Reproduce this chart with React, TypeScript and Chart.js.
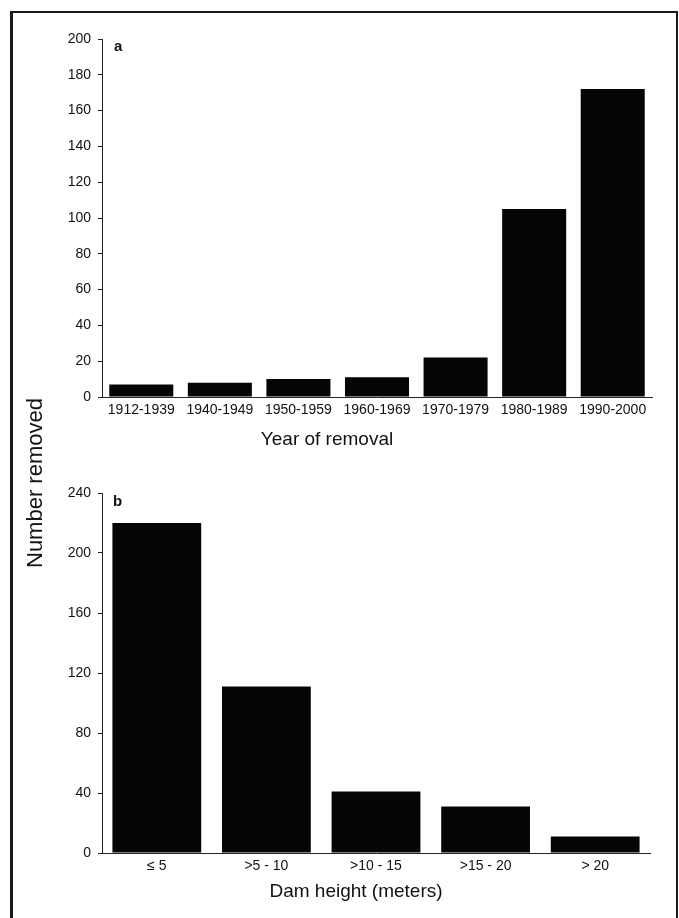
import React, { useEffect, useRef } from 'react';
import { Chart, registerables } from 'chart.js';

Chart.register(...registerables);

// Dam removals in the United States
const removalPeriods = ['1912-1939', '1940-1949', '1950-1959', '1960-1969', '1970-1979', '1980-1989', '1990-2000'];
const removedByPeriod = [7, 8, 10, 11, 22, 105, 172];
const periodAxisMax = 200;
const periodAxisStep = 20;

const damHeightClasses = ['≤ 5', '>5 - 10', '>10 - 15', '>15 - 20', '> 20'];
const removedByHeight = [220, 111, 41, 31, 11];
const heightAxisMax = 240;
const heightAxisStep = 40;

const FONT = '"Liberation Sans", Arial, Helvetica, sans-serif';
const INK = '#111111';

// Draws the panel letter and the axis caption relative to the chart area.
const captionPlugin = {
  id: 'panelCaptions',
  afterDraw(chart: any, _args: any, opts: any) {
    const { ctx, chartArea } = chart;
    ctx.save();
    ctx.fillStyle = INK;
    ctx.textBaseline = 'middle';
    ctx.textAlign = 'left';
    ctx.font = `bold 15px ${FONT}`;
    ctx.fillText(opts.letter, chartArea.left + opts.letterDx, chartArea.top + opts.letterDy);
    ctx.textAlign = 'center';
    ctx.font = `19px ${FONT}`;
    ctx.fillText(
      opts.caption,
      (chartArea.left + chartArea.right) / 2 + opts.captionDx,
      chartArea.bottom + opts.captionDy
    );
    ctx.restore();
  },
};

type PanelProps = {
  labels: string[];
  values: number[];
  max: number;
  step: number;
  letter: string;
  caption: string;
  top: number;
  height: number;
  plotTop: number;
  plotBottom: number;
  plotRight: number;
  barPercentage: number;
  letterDx: number;
  letterDy: number;
  captionDx: number;
  captionDy: number;
};

const WIDTH = 679;
const AXIS_LEFT = 102;

function BarPanel(p: PanelProps) {
  const ref = useRef<HTMLCanvasElement | null>(null);

  useEffect(() => {
    if (!ref.current) return;
    const chart = new Chart(ref.current, {
      type: 'bar',
      data: {
        labels: p.labels,
        datasets: [
          {
            data: p.values,
            backgroundColor: '#050505',
            borderWidth: 0,
            barPercentage: p.barPercentage,
            categoryPercentage: 1,
          },
        ],
      },
      options: {
        responsive: false,
        animation: false,
        events: [],
        layout: {
          padding: { left: 0, top: p.plotTop, right: WIDTH - p.plotRight, bottom: 0 },
        },
        plugins: {
          legend: { display: false },
          tooltip: { enabled: false },
          panelCaptions: {
            letter: p.letter,
            caption: p.caption,
            letterDx: p.letterDx,
            letterDy: p.letterDy,
            captionDx: p.captionDx,
            captionDy: p.captionDy,
          },
        } as any,
        scales: {
          x: {
            type: 'category',
            grid: { display: false, drawTicks: false },
            border: { display: true, color: '#222', width: 1 },
            ticks: {
              color: INK,
              font: { family: FONT, size: 14 },
              padding: 5,
              maxRotation: 0,
              autoSkip: false,
            },
            afterFit: (scale: any) => {
              scale.height = p.height - p.plotBottom;
            },
          },
          y: {
            min: 0,
            max: p.max,
            grid: {
              drawOnChartArea: false,
              drawTicks: true,
              tickLength: 4,
              color: '#222',
            },
            border: { display: true, color: '#222', width: 1 },
            ticks: {
              stepSize: p.step,
              color: INK,
              font: { family: FONT, size: 14 },
              padding: 7,
            },
            afterFit: (scale: any) => {
              scale.width = AXIS_LEFT;
            },
          },
        },
      },
      plugins: [captionPlugin],
    });
    return () => chart.destroy();
  }, []);

  return (
    <canvas
      ref={ref}
      width={WIDTH}
      height={p.height}
      style={{ position: 'absolute', left: 0, top: p.top, width: WIDTH, height: p.height, display: 'block' }}
    />
  );
}

export default function App() {
  return (
    <div
      style={{
        position: 'absolute',
        left: 0,
        top: 0,
        width: WIDTH,
        height: 918,
        overflow: 'hidden',
        background: '#ffffff',
      }}
    >
      <div
        style={{
          position: 'absolute',
          left: 10,
          top: 11,
          width: 668,
          height: 1000,
          boxSizing: 'border-box',
          borderTop: '2px solid #1a1a1a',
          borderRight: '2px solid #1a1a1a',
          borderLeft: '3px solid #1a1a1a',
        }}
      />
      <BarPanel
        labels={removalPeriods}
        values={removedByPeriod}
        max={periodAxisMax}
        step={periodAxisStep}
        letter="a"
        caption="Year of removal"
        top={0}
        height={460}
        plotTop={39}
        plotBottom={397}
        plotRight={652}
        barPercentage={0.815}
        letterDx={12}
        letterDy={8}
        captionDx={-50}
        captionDy={43}
      />
      <BarPanel
        labels={damHeightClasses}
        values={removedByHeight}
        max={heightAxisMax}
        step={heightAxisStep}
        letter="b"
        caption="Dam height (meters)"
        top={460}
        height={458}
        plotTop={33}
        plotBottom={393}
        plotRight={650}
        barPercentage={0.81}
        letterDx={11}
        letterDy={9}
        captionDx={-20}
        captionDy={39}
      />
      <div
        style={{
          position: 'absolute',
          left: 35,
          top: 483,
          transform: 'translate(-50%, -50%) rotate(-90deg)',
          whiteSpace: 'nowrap',
          fontFamily: FONT,
          fontSize: 22,
          color: INK,
          lineHeight: 1,
        }}
      >
        Number removed
      </div>
    </div>
  );
}
